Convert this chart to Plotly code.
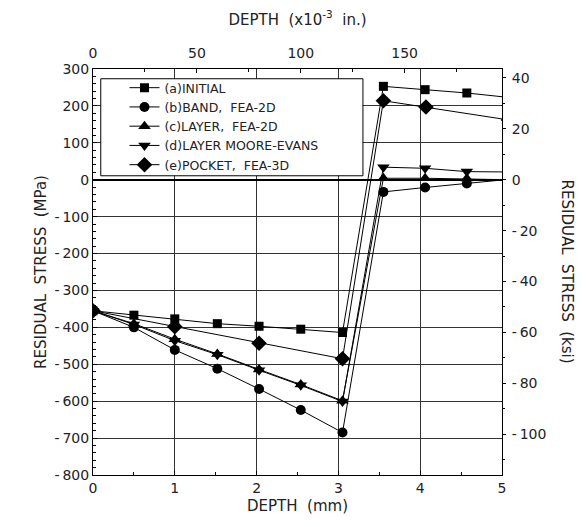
import plotly.graph_objects as go

# ---- data (depth in mm, residual stress in MPa) ----
depth_mm = [0, 0.5, 1.0, 1.52, 2.03, 2.54, 3.05, 3.55, 4.06, 4.57, 5.08]
initial = [-355, -367, -377, -390, -397, -405, -414, 253, 244, 235, 223]
band_fea2d = [-355, -400, -461, -512, -567, -624, -685, -33, -21, -10, 1]
layer_fea2d = [-355, -390, -432, -472, -514, -555, -599, 4, 4, 3, 0]
layer_moore_evans = [-355, -392, -436, -474, -516, -557, -601, 34, 31, 22, 21]
pocket_depth_mm = [0, 1.0, 2.03, 3.05, 3.55, 4.07, 5.08]
pocket_fea3d = [-355, -398, -443, -485, 214, 197, 162]

series_names = ["(a)INITIAL", "(b)BAND,  FEA-2D", "(c)LAYER,  FEA-2D",
                "(d)LAYER MOORE-EVANS", "(e)POCKET,  FEA-3D"]

mpa_ticks = [300, 200, 100, 0, -100, -200, -300, -400, -500, -600, -700, -800]
ksi_ticks = [40, 20, 0, -20, -40, -60, -80, -100]
mil_ticks = [0, 50, 100, 150]

MPA_PER_KSI = 6.894757
MM_PER_MIL = 0.0254
y_range = [-800, 300]
x_range = [0, 5]

FONT = "DejaVu Sans"
TXT = "#222222"


def fmt(v):
    return ("-\u2009" + str(-v)) if v < 0 else str(v)


fig = go.Figure()
specs = [
    (depth_mm, initial, "square", 9),
    (depth_mm, band_fea2d, "circle", 10),
    (depth_mm, layer_fea2d, "triangle-up", 11),
    (depth_mm, layer_moore_evans, "triangle-down", 11),
    (pocket_depth_mm, pocket_fea3d, "diamond", 12),
]
for name, (xs, ys, sym, sz) in zip(series_names, specs):
    fig.add_trace(go.Scatter(
        x=xs, y=ys, name=name, mode="lines+markers",
        line=dict(color="black", width=1),
        marker=dict(symbol=sym, size=sz, color="black"),
        cliponaxis=True,
    ))

# same INITIAL series in secondary units, invisible, so top/right axes are drawn
fig.add_trace(go.Scatter(
    x=[d / MM_PER_MIL for d in depth_mm],
    y=[v / MPA_PER_KSI for v in initial],
    xaxis="x2", yaxis="y2", mode="lines", opacity=0,
    line=dict(width=1, color="black"), hoverinfo="skip", showlegend=False,
))

axis_common = dict(showline=True, linecolor="black", linewidth=1,
                   tickfont=dict(family=FONT, size=14, color=TXT),
                   title_font=dict(family=FONT, size=15, color=TXT))

fig.update_layout(
    width=586, height=527,
    margin=dict(l=93, r=84, t=69, b=52),
    paper_bgcolor="white", plot_bgcolor="white",
    showlegend=True,
    legend=dict(x=0.077, y=0.990, xanchor="left", yanchor="top",
                borderwidth=0, bgcolor="rgba(0,0,0,0)",
                font=dict(family=FONT, size=12.5, color=TXT),
                tracegroupgap=0),
    # legend frame
    shapes=[dict(type="rect", xref="paper", yref="paper",
                 x0=0.019, x1=0.660, y0=0.737, y1=0.976,
                 line=dict(color="black", width=1), fillcolor="white",
                 layer="above")],
    xaxis=dict(range=x_range, dtick=1, tick0=0, showgrid=True,
               gridcolor="#333333", gridwidth=1, zeroline=False,
               ticks="inside", ticklen=4, tickcolor="black",
               minor=dict(dtick=0.5, ticks="inside", ticklen=3, tickcolor="black", showgrid=False),
               title=dict(text="DEPTH  (mm)", standoff=5),
               **axis_common),
    yaxis=dict(range=y_range, tickvals=mpa_ticks, ticktext=[fmt(v) for v in mpa_ticks],
               showgrid=True, gridcolor="#333333", gridwidth=1,
               zeroline=True, zerolinecolor="black", zerolinewidth=2,
               ticks="inside", ticklen=4, tickcolor="black",
               minor=dict(dtick=20, ticks="inside", ticklen=3, tickcolor="black", showgrid=False),
               title=dict(text="RESIDUAL  STRESS  (MPa)", standoff=4),
               **axis_common),
    xaxis2=dict(overlaying="x", side="top", anchor="y",
                range=[x_range[0] / MM_PER_MIL, x_range[1] / MM_PER_MIL],
                tickvals=mil_ticks, showgrid=False, zeroline=False,
                ticks="inside", ticklen=4, tickcolor="black",
                minor=dict(dtick=25, ticks="inside", ticklen=3, tickcolor="black"),
                ticklabelstandoff=4,
                title=dict(text="DEPTH  (x10<sup>-3</sup>  in.)", standoff=16),
                **axis_common),
    yaxis2=dict(overlaying="y", side="right", anchor="x",
                range=[y_range[0] / MPA_PER_KSI, y_range[1] / MPA_PER_KSI],
                tickvals=ksi_ticks, ticktext=[fmt(v) for v in ksi_ticks],
                showgrid=False, zeroline=False,
                ticks="outside", ticklen=3, tickcolor="black",
                minor=dict(dtick=10, ticks="outside", ticklen=2, tickcolor="black"),
                ticklabelstandoff=3,
                **axis_common),
    annotations=[dict(text="RESIDUAL  STRESS  (ksi)", textangle=90,
                      xref="paper", yref="paper", x=1.16, y=0.5,
                      xanchor="center", yanchor="middle", showarrow=False,
                      font=dict(family=FONT, size=15, color=TXT))],
)

fig.write_html("out.html", config={"displayModeBar": False},
               post_script="document.body.style.margin='0px';")
